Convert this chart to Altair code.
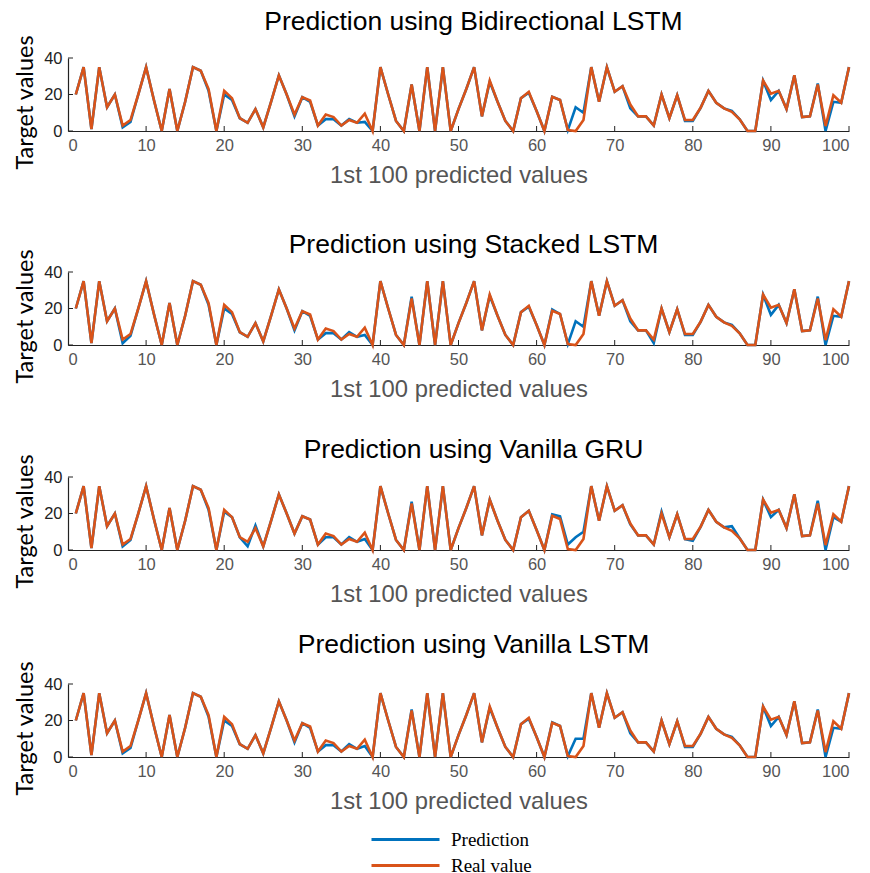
import altair as alt
import pandas as pd

# ---------------- data ----------------
x_idx = list(range(1, 101))

real_value = [
    20, 35, 1, 35, 13, 20, 3, 6, 20, 35,
    17, 0, 23, 0, 16, 35, 33, 23, 0, 22,
    18, 7, 4.5, 12, 2, 16, 30.5, 20, 9, 18.5,
    16.7, 3, 9, 7.6, 3, 6, 4.5, 9.5, 0, 35,
    20, 5.5, 0, 25.5, 0, 35, 0, 35, 0, 12,
    23, 35, 8, 27.6, 16, 5.5, 0, 18, 21.5, 11,
    0, 18.7, 17, 0.5, 0, 6, 35, 16, 35, 21.5,
    24.5, 14.5, 8, 8, 3, 20, 7, 19.6, 6, 6,
    12.7, 22, 15.5, 12.4, 10.5, 6.4, 0, 0, 27.6, 20.4,
    22, 12, 30.5, 7.6, 8, 25.5, 2.7, 19.6, 15.5, 35,
]

pred_bidirectional_lstm = [
    20, 35, 1, 35, 13, 20, 2, 5, 20, 35,
    17, 0, 23, 0, 16, 35, 33, 22, 0, 20,
    17, 7, 4.5, 12, 2, 16, 30.5, 20, 8, 18.5,
    16, 3, 6.5, 6.5, 3, 6.5, 4.5, 5, 0, 35,
    20, 5.5, 0, 25.5, 0, 35, 0, 35, 0, 12,
    23, 35, 8, 27, 16, 5.5, 0, 18, 21, 11,
    0, 18.7, 17, 0.5, 13, 10, 35, 16, 35, 21.5,
    24.5, 12.5, 8, 8, 3, 20, 7, 19.6, 5.5, 5.5,
    12.7, 22, 15.5, 12.4, 11, 6.4, 0, 0, 27.6, 17,
    22, 12, 30.5, 7.6, 8, 26, 0, 16, 15.5, 35,
]

pred_stacked_lstm = [
    20, 35, 1, 35, 13, 20, 1, 5, 20, 35,
    17, 0, 23, 0, 16, 35, 33, 22, 0, 20,
    17, 7, 4.5, 12, 2, 16, 30.5, 20, 8, 18.5,
    16, 3, 6.5, 6.5, 3, 7, 4.5, 5.5, 0, 35,
    20, 5.5, 0, 26.5, 0, 35, 0, 35, 0, 12,
    23, 35, 8, 27, 16, 5.5, 0, 18, 21, 11,
    0, 19.5, 17, 0.5, 13, 10, 35, 16, 35, 21.5,
    24.5, 13, 8, 8, 1, 20, 7, 19.6, 5.5, 5.5,
    12.7, 22, 15.5, 12.4, 11, 6.4, 0, 0, 27.6, 16.5,
    22, 12, 30.5, 7.6, 8, 26.5, 0, 16, 15.5, 35,
]

pred_vanilla_gru = [
    20, 35, 1, 35, 13, 20, 2, 5.5, 20, 35,
    17, 0, 23, 0, 16, 35, 33, 22, 0, 21,
    18, 7, 2, 13.5, 2, 16, 30.5, 20, 9, 18.5,
    16.7, 3, 7, 7, 3, 7, 4.5, 6, 0, 35,
    20, 5.5, 0, 26.5, 0, 35, 0, 35, 0, 12,
    23, 35, 8, 27.6, 16, 5.5, 0, 18, 21.5, 11,
    0, 19.5, 18.5, 3, 7, 10, 35, 16, 35, 21.5,
    24.5, 14, 8, 8, 3, 21, 7, 19.6, 6, 5,
    12.7, 22, 15.5, 12.4, 13, 6.4, 0, 0, 27.6, 18,
    22, 12, 30.5, 7.6, 8, 27, 0, 18, 15.5, 35,
]

pred_vanilla_lstm = [
    20, 35, 1, 35, 13, 20, 2, 5, 20, 35,
    17, 0, 23, 0, 16, 35, 33, 22, 0, 20,
    17, 7, 4.5, 12, 2, 16, 30.5, 20, 8, 18.5,
    16, 3, 6.5, 6.5, 3, 7, 4.5, 6, 0, 35,
    20, 5.5, 0, 26, 0, 35, 0, 35, 0, 12,
    23, 35, 8, 27, 16, 5.5, 0, 18, 21, 11,
    0, 19, 17, 0.5, 10, 10, 35, 16, 35, 21.5,
    24.5, 13, 8, 8, 3, 20, 7, 19.6, 5.5, 5.5,
    12.7, 22, 15.5, 12.4, 11, 6.4, 0, 0, 27.6, 17,
    22, 12, 30.5, 7.6, 8, 26, 0, 16, 15.5, 35,
]

panel_titles = [
    "Prediction using Bidirectional LSTM",
    "Prediction using Stacked LSTM",
    "Prediction using Vanilla GRU",
    "Prediction using Vanilla LSTM",
]
series_names = ["Prediction", "Real value"]
x_tick_values = [0, 10, 20, 30, 40, 50, 60, 70, 80, 90, 100]
y_tick_values = [0, 20, 40]

BLUE = "#0072BD"
ORANGE = "#D95319"
W = 781
H = 73

x_axis = alt.Axis(
    values=x_tick_values, ticks=False, grid=False,
    title="1st 100 predicted values", titleFont="Liberation Sans",
    titleFontSize=23.8, titleFontWeight="normal", titleColor="#555555",
    titlePadding=10, labelFont="Liberation Sans", labelFontSize=16.5,
    labelColor="#555555", labelPadding=6,
    domainColor="#222222", domainWidth=1.2)
y_axis = alt.Axis(
    values=y_tick_values, ticks=False, grid=False,
    title="Target values", titleFont="Lato", titleFontSize=23.5,
    titleFontWeight="normal", titleColor="black", titlePadding=6,
    titleY=44, labelFont="Liberation Sans", labelFontSize=16.5,
    labelColor="#222222", labelPadding=6,
    domainColor="#222222", domainWidth=1.2)

legend = alt.Legend(title=None, orient="none", legendX=326, legendY=770,
                    direction="vertical")


def panel(title, pred, offset):
    df = pd.concat([
        pd.DataFrame({"x": x_idx, "v": pred, "s": series_names[0]}),
        pd.DataFrame({"x": x_idx, "v": real_value, "s": series_names[1]}),
    ])
    xs = alt.Scale(domain=[0, 100], nice=False)
    ys = alt.Scale(domain=[0, 40], nice=False)
    lines = alt.Chart(df).mark_line(strokeWidth=2.6).encode(
        x=alt.X("x:Q", scale=xs, axis=x_axis),
        y=alt.Y("v:Q", scale=ys, axis=y_axis),
        color=alt.Color("s:N", scale=alt.Scale(domain=series_names, range=[BLUE, ORANGE]),
                        legend=legend),
    )
    xt = alt.Chart(pd.DataFrame({"x": x_tick_values[1:]})).mark_rule(
        color="#222222", strokeWidth=1).encode(
        x=alt.X("x:Q", scale=xs, axis=x_axis), y=alt.value(H), y2=alt.value(H - 5))
    yt = alt.Chart(pd.DataFrame({"v": y_tick_values})).mark_rule(
        color="#222222", strokeWidth=1).encode(
        y=alt.Y("v:Q", scale=ys, axis=y_axis), x=alt.value(0), x2=alt.value(5))
    return alt.layer(lines, xt, yt).properties(
        width=W, height=H,
        title=alt.TitleParams(title, font="Liberation Sans", fontSize=26.5,
                              fontWeight="normal", color="black", offset=offset,
                              anchor="middle", dx=15),
    )


def spacer(h):
    return alt.Chart(pd.DataFrame({"a": [0]})).mark_point(opacity=0, size=1).encode(
        x=alt.value(5), y=alt.value(h / 2)).properties(width=10, height=h)


preds = [pred_bidirectional_lstm, pred_stacked_lstm, pred_vanilla_gru, pred_vanilla_lstm]
offsets = [-1, -10, -10, 2]
gaps = [44, 35, 25]
charts = [panel(t, p, o) for t, p, o in zip(panel_titles, preds, offsets)]
items = [charts[0], spacer(gaps[0]), charts[1], spacer(gaps[1]), charts[2],
         spacer(gaps[2]), charts[3]]

chart = alt.vconcat(*items, spacing=0).resolve_scale(color="shared").resolve_legend(
    color="shared").properties(
    padding={"left": 13, "top": 9, "right": 5, "bottom": 0},
    background="white",
).configure_view(stroke=None).configure_legend(
    symbolType="M-3.4,0H3.4", symbolSize=400, symbolStrokeWidth=3,
    labelFont="Liberation Serif", labelFontSize=19, labelColor="black",
    labelOffset=34, rowPadding=4,
)

chart.save("out.html", embed_options={"renderer": "svg", "actions": False})
